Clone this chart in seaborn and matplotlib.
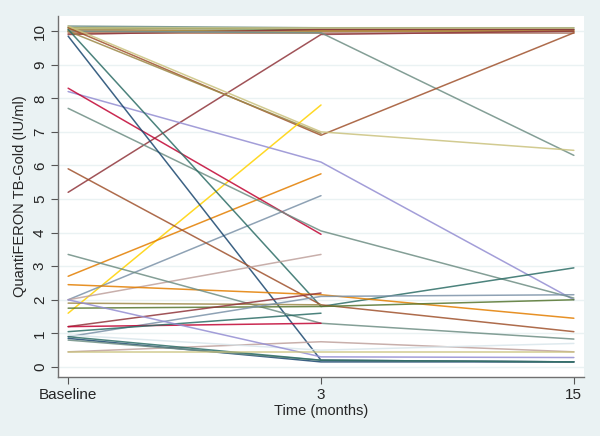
import seaborn as sns
import matplotlib.pyplot as plt
import pandas as pd
import numpy as np

# time points (equally spaced on the axis)
TIME_LABELS = ["Baseline", "3", "15"]

# QuantiFERON values per subject at baseline, 3 and 15 months (nan = missing)
nan = np.nan
baseline = [10.10, 10.15, 10.00, 9.95, 10.05, 9.90, 10.00, 10.08,
            5.20, 10.00, 10.10, 10.15, 10.00, 1.60, 8.20, 2.70, 2.00, 8.30,
            7.70, 9.85, 10.05, 5.90, 2.00, 2.45, 3.35, 1.90, 1.75, 0.90,
            1.20, 1.20, 1.05, 0.45, 0.95, 2.00, 0.85, 0.80, 0.90, 0.45]
month3 = [10.05, 10.10, 10.00, 9.95, 10.00, 10.05, 9.95, 10.08,
          9.90, 9.95, 6.90, 7.00, 6.95, 7.80, 6.10, 5.75, 5.10, 3.95,
          4.05, 0.20, 1.80, 1.85, 3.35, 2.15, 1.30, 1.85, 1.80, 2.10,
          2.20, 1.30, 1.60, 0.75, 0.50, 0.30, 0.15, 0.20, 0.20, 0.45]
month15 = [10.05, 10.10, 10.00, 9.95, 10.00, 10.05, 9.95, 10.08,
           10.00, 6.30, 9.95, 6.45, nan, nan, 2.00, nan, nan, nan,
           2.05, 0.15, 2.95, 1.05, nan, 1.45, 0.83, nan, 2.00, 2.15,
           nan, nan, nan, 0.45, 0.70, 0.28, 0.15, 0.15, 0.15, 0.45]

# Stata s2color palette
STATA = {"navy": "#1a476f", "maroon": "#90353b", "forest_green": "#55752f",
         "dkorange": "#e37e00", "teal": "#6e8e84", "cranberry": "#c10534",
         "lavender": "#938dd2", "khaki": "#cac27e", "sienna": "#a0522d",
         "emidblue": "#7b92a8", "emerald": "#2d6d66", "brown": "#9c8847",
         "erose": "#bfa19c", "gold": "#ffd200", "bluishgray": "#d9e6eb"}
line_colors = ["forest_green", "teal", "dkorange", "sienna", "brown", "maroon",
               "erose", "khaki",
               "maroon", "teal", "sienna", "khaki", "brown", "gold", "lavender",
               "dkorange", "emidblue", "cranberry", "teal", "navy", "emerald",
               "sienna", "erose", "dkorange", "teal", "brown", "forest_green",
               "emidblue", "maroon", "cranberry", "emerald", "erose",
               "bluishgray", "lavender", "navy", "teal", "emerald", "khaki"]

rows = []
for i in range(len(baseline)):
    for t, v in enumerate([baseline[i], month3[i], month15[i]]):
        if not np.isnan(v):
            rows.append({"id": i, "time": t, "value": v})
df = pd.DataFrame(rows)
palette = {i: STATA[c] for i, c in enumerate(line_colors)}

bg = "#eaf2f3"
sns.set_style("white")
plt.rcParams["font.family"] = ["Liberation Sans", "DejaVu Sans"]

fig = plt.figure(figsize=(6, 4.36), dpi=100, facecolor=bg)
ax = fig.add_axes([0.0967, 0.1353, 0.8766, 0.828])
ax.set_facecolor("white")
for y in range(0, 11):
    ax.axhline(y, color=bg, lw=1, zorder=0)

sns.lineplot(data=df, x="time", y="value", hue="id", palette=palette,
             estimator=None, legend=False, lw=1.1, alpha=0.85, ax=ax)

ax.set_xlim(-0.04, 2.04)
ax.set_ylim(-0.3, 10.45)
ax.set_xticks([0, 1, 2])
ax.set_xticklabels(TIME_LABELS, fontsize=11)
ax.set_yticks(range(0, 11))
ax.set_yticklabels([str(v) for v in range(0, 11)], fontsize=11,
                   rotation=90, va="center")
ax.tick_params(axis="both", direction="out", length=5, width=0.8,
               color="#555555", left=True, bottom=True, pad=3)
ax.set_xlabel("Time (months)", fontsize=10.5, labelpad=1)
ax.set_ylabel("QuantiFERON TB-Gold (IU/ml)", fontsize=10.5, labelpad=4)
for side in ["top", "right"]:
    ax.spines[side].set_visible(False)
for side in ["left", "bottom"]:
    ax.spines[side].set_color("#707070")
    ax.spines[side].set_linewidth(1.0)

fig.savefig("out.png", dpi=100, facecolor=bg)
